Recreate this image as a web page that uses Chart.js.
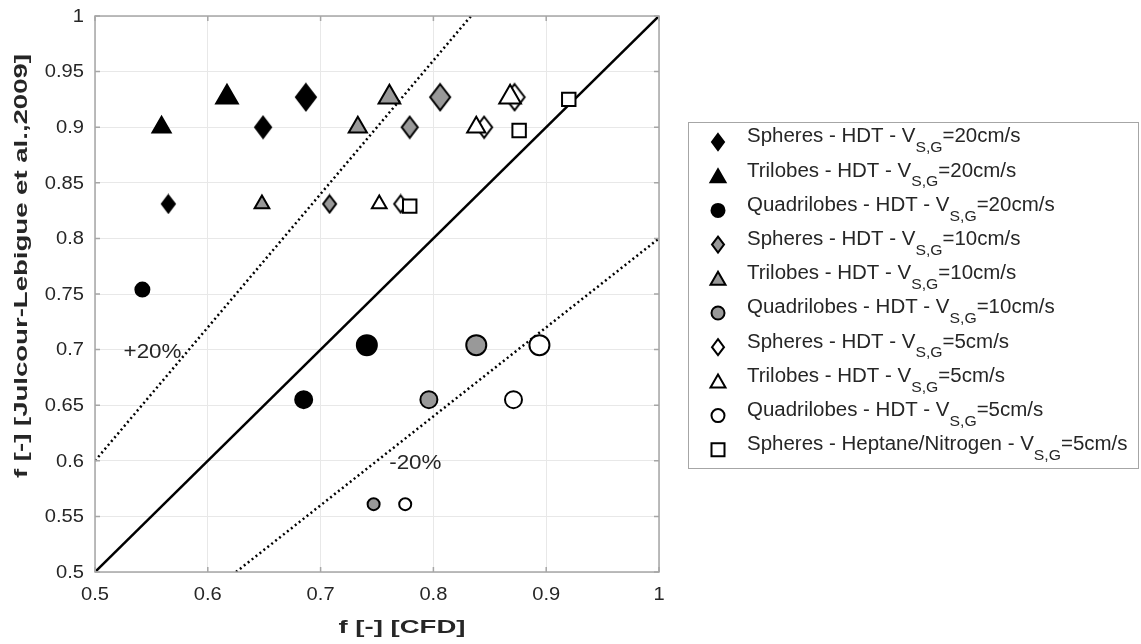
<!DOCTYPE html>
<html>
<head>
<meta charset="utf-8">
<script src="https://cdn.jsdelivr.net/npm/chart.js@4.4.1/dist/chart.umd.min.js"></script>
<style>
  html, body { margin: 0; padding: 0; background: #fff; }
  #wrap { width: 1141px; height: 644px; position: relative; }
</style>
</head>
<body>
<div id="wrap"><canvas id="myChart"></canvas></div>
<script>
// f [-] : x = CFD, y = Julcour-Lebigue et al., 2009
const spheres20     = [[0.687, 0.927], [0.649, 0.900], [0.565, 0.831]];
const trilobes20    = [[0.617, 0.927], [0.559, 0.900]];
const quadri20      = [[0.741, 0.704], [0.685, 0.655], [0.542, 0.754]];
const spheres10     = [[0.806, 0.927], [0.779, 0.900], [0.708, 0.831]];
const trilobes10    = [[0.761, 0.927], [0.733, 0.900], [0.648, 0.831]];
const quadri10      = [[0.838, 0.704], [0.796, 0.655], [0.747, 0.561]];
const spheres5      = [[0.872, 0.927], [0.845, 0.900], [0.771, 0.831]];
const trilobes5     = [[0.868, 0.927], [0.838, 0.900], [0.752, 0.831]];
const quadri5       = [[0.894, 0.704], [0.871, 0.655], [0.775, 0.561]];
const heptane5      = [[0.920, 0.925], [0.876, 0.897], [0.779, 0.829]];

// reference lines y = x, y = 1.2x, y = 0.8x
const parity  = [[0.5, 0.5], [1, 1]];
const plus20  = [[0.5, 0.6], [1 / 1.2, 1]];
const minus20 = [[0.625, 0.5], [1, 0.8]];

const xTicks = [0.5, 0.6, 0.7, 0.8, 0.9, 1];
const yTicks = [0.5, 0.55, 0.6, 0.65, 0.7, 0.75, 0.8, 0.85, 0.9, 0.95, 1];

const notes = [
  { text: '+20%', x: 0.551, y: 0.697 },
  { text: '-20%', x: 0.784, y: 0.598 }
];

const xTitle = 'f [-] [CFD]';
const yTitle = 'f [-] [Julcour-Lebigue et al.,2009]';

const textColor = '#262626';
const GRAY = '#999999';
const FONT = '"Liberation Sans", Arial, sans-serif';

// marker size class for each point (L / M / S)
const series = [
  { name: ['Spheres - HDT - V', 'S,G', '=20cm/s'], pts: spheres20, shape: 'diamond', fill: '#000', sizes: ['L', 'M', 'S'] },
  { name: ['Trilobes - HDT - V', 'S,G', '=20cm/s'], pts: trilobes20, shape: 'triangle', fill: '#000', sizes: ['L', 'M'] },
  { name: ['Quadrilobes - HDT - V', 'S,G', '=20cm/s'], pts: quadri20, shape: 'circle', fill: '#000', sizes: ['L', 'M', 'm'] },
  { name: ['Spheres - HDT - V', 'S,G', '=10cm/s'], pts: spheres10, shape: 'diamond', fill: GRAY, sizes: ['L', 'M', 'S'] },
  { name: ['Trilobes - HDT - V', 'S,G', '=10cm/s'], pts: trilobes10, shape: 'triangle', fill: GRAY, sizes: ['L', 'M', 'S'] },
  { name: ['Quadrilobes - HDT - V', 'S,G', '=10cm/s'], pts: quadri10, shape: 'circle', fill: GRAY, sizes: ['L', 'M', 'S'] },
  { name: ['Spheres - HDT - V', 'S,G', '=5cm/s'], pts: spheres5, shape: 'diamond', fill: '#fff', sizes: ['L', 'M', 'S'] },
  { name: ['Trilobes - HDT - V', 'S,G', '=5cm/s'], pts: trilobes5, shape: 'triangle', fill: '#fff', sizes: ['L', 'M', 'S'] },
  { name: ['Quadrilobes - HDT - V', 'S,G', '=5cm/s'], pts: quadri5, shape: 'circle', fill: '#fff', sizes: ['L', 'M', 'S'] },
  { name: ['Spheres - Heptane/Nitrogen - V', 'S,G', '=5cm/s'], pts: heptane5, shape: 'rect', fill: '#fff', sizes: ['M', 'M', 'M'] }
];

const radii = {
  circle:   { L: 10, M: 8.5, m: 7, S: 6 },
  triangle: { L: 12.5, M: 10.5, S: 8.5 },
  rect:     { M: 9.5 }
};
const diamondDims = { L: [20, 26], M: [16, 21], S: [13, 17] };

function makeDiamond(w, h, fill) {
  const c = document.createElement('canvas');
  c.width = w + 4; c.height = h + 4;
  const g = c.getContext('2d');
  const cx = c.width / 2, cy = c.height / 2;
  g.beginPath();
  g.moveTo(cx, cy - h / 2);
  g.lineTo(cx + w / 2, cy);
  g.lineTo(cx, cy + h / 2);
  g.lineTo(cx - w / 2, cy);
  g.closePath();
  g.fillStyle = fill; g.fill();
  g.lineWidth = 2; g.strokeStyle = '#000'; g.stroke();
  return c;
}

const datasets = series.map((s, i) => {
  const ds = {
    label: s.name.join(''),
    data: s.pts.map(p => ({ x: p[0], y: p[1] })),
    backgroundColor: s.fill,
    borderColor: '#000',
    borderWidth: 2,
    showLine: false,
    order: 20 - i
  };
  if (s.shape === 'diamond') {
    ds.pointStyle = s.sizes.map(k => makeDiamond(diamondDims[k][0], diamondDims[k][1], s.fill));
    ds.pointRadius = 10;
  } else {
    ds.pointStyle = s.shape;
    ds.pointRadius = s.sizes.map(k => radii[s.shape][k]);
  }
  return ds;
});

function lineSet(pts, dash) {
  return {
    data: pts.map(p => ({ x: p[0], y: p[1] })),
    showLine: true,
    borderColor: '#000',
    borderWidth: 2.5,
    borderDash: dash ? [2, 3] : [],
    pointRadius: 0,
    order: 50
  };
}
datasets.push(lineSet(parity, false), lineSet(plus20, true), lineSet(minus20, true));

const fmt = v => String(parseFloat(v.toFixed(2)));

// the source figure uses wide glyphs, so text is stretched horizontally
function wideText(ctx, text, x, y, sx) {
  ctx.save();
  ctx.translate(x, y);
  ctx.scale(sx, 1);
  ctx.fillText(text, 0, 0);
  ctx.restore();
}

const frame = {
  id: 'frame',
  afterDatasetsDraw(chart) {
    const { ctx, chartArea: a, scales } = chart;
    ctx.save();
    ctx.strokeStyle = '#a6a6a6';
    ctx.lineWidth = 1.5;
    ctx.strokeRect(a.left, a.top, a.right - a.left, a.bottom - a.top);
    ctx.beginPath();
    xTicks.forEach(v => {
      const px = scales.x.getPixelForValue(v);
      ctx.moveTo(px, a.bottom); ctx.lineTo(px, a.bottom - 5);
      ctx.moveTo(px, a.top); ctx.lineTo(px, a.top + 5);
    });
    yTicks.forEach(v => {
      const py = scales.y.getPixelForValue(v);
      ctx.moveTo(a.left, py); ctx.lineTo(a.left + 5, py);
      ctx.moveTo(a.right, py); ctx.lineTo(a.right - 5, py);
    });
    ctx.stroke();

    ctx.fillStyle = textColor;
    ctx.textBaseline = 'middle';

    // tick labels
    ctx.font = '17.5px ' + FONT;
    ctx.textAlign = 'center';
    xTicks.forEach(v => wideText(ctx, fmt(v), scales.x.getPixelForValue(v), a.bottom + 23, 1.15));
    ctx.textAlign = 'right';
    yTicks.forEach(v => wideText(ctx, fmt(v), a.left - 11, scales.y.getPixelForValue(v) + 1, 1.15));

    ctx.textAlign = 'center';
    ctx.font = '20px ' + FONT;
    notes.forEach(n => {
      wideText(ctx, n.text, scales.x.getPixelForValue(n.x), scales.y.getPixelForValue(n.y), 1.12);
    });

    // axis titles
    ctx.font = 'bold 19px ' + FONT;
    wideText(ctx, xTitle, 402, 628, 1.45);
    ctx.save();
    ctx.translate(22, 266);
    ctx.rotate(-Math.PI / 2);
    wideText(ctx, yTitle, 0, 0, 1.45);
    ctx.restore();
    ctx.restore();
  }
};

function legendMarker(ctx, s, x, y) {
  ctx.fillStyle = s.fill;
  ctx.strokeStyle = '#000';
  ctx.lineWidth = 2;
  ctx.beginPath();
  if (s.shape === 'diamond') {
    ctx.moveTo(x, y - 8); ctx.lineTo(x + 6, y); ctx.lineTo(x, y + 8); ctx.lineTo(x - 6, y); ctx.closePath();
  } else if (s.shape === 'triangle') {
    ctx.moveTo(x, y - 7); ctx.lineTo(x + 7.5, y + 6); ctx.lineTo(x - 7.5, y + 6); ctx.closePath();
  } else if (s.shape === 'circle') {
    ctx.arc(x, y, 6.5, 0, Math.PI * 2);
  } else {
    ctx.rect(x - 6.5, y - 6.5, 13, 13);
  }
  ctx.fill();
  ctx.stroke();
}

const legendBox = {
  id: 'legendBox',
  afterDraw(chart) {
    const ctx = chart.ctx;
    ctx.save();
    ctx.strokeStyle = '#a6a6a6';
    ctx.lineWidth = 1;
    ctx.fillStyle = '#fff';
    ctx.fillRect(688.5, 122.5, 450, 346);
    ctx.strokeRect(688.5, 122.5, 450, 346);
    series.forEach((s, i) => {
      const y = 142 + i * 34.2;
      legendMarker(ctx, s, 718, y);
      ctx.fillStyle = textColor;
      ctx.textBaseline = 'middle';
      ctx.textAlign = 'left';
      const sx = 1.05;
      let x = 747;
      ctx.font = '19.5px ' + FONT;
      wideText(ctx, s.name[0], x, y - 5, sx);
      x += ctx.measureText(s.name[0]).width * sx;
      ctx.font = '15px ' + FONT;
      wideText(ctx, s.name[1], x, y + 6, sx);
      x += ctx.measureText(s.name[1]).width * sx;
      ctx.font = '19.5px ' + FONT;
      wideText(ctx, s.name[2], x, y - 5, sx);
    });
    ctx.restore();
  }
};

const ctx = document.getElementById('myChart').getContext('2d');

const myChart = new Chart(ctx, {
  type: 'scatter',
  data: { datasets },
  options: {
    responsive: true,
    maintainAspectRatio: false,
    animation: false,
    devicePixelRatio: 1,
    layout: { padding: { left: 0, top: 16, right: 482, bottom: 0 } },
    plugins: {
      legend: { display: false },
      tooltip: { enabled: false }
    },
    scales: {
      x: {
        type: 'linear',
        min: 0.5,
        max: 1,
        afterBuildTicks: s => { s.ticks = xTicks.map(v => ({ value: v })); },
        afterFit: s => { s.height = 72; },
        ticks: { display: false },
        grid: { color: '#e8e8e8', drawTicks: false },
        border: { display: false }
      },
      y: {
        type: 'linear',
        min: 0.5,
        max: 1,
        afterBuildTicks: s => { s.ticks = yTicks.map(v => ({ value: v })); },
        afterFit: s => { s.width = 95; },
        ticks: { display: false },
        grid: { color: '#e8e8e8', drawTicks: false },
        border: { display: false }
      }
    }
  },
  plugins: [frame, legendBox]
});
</script>
</body>
</html>
